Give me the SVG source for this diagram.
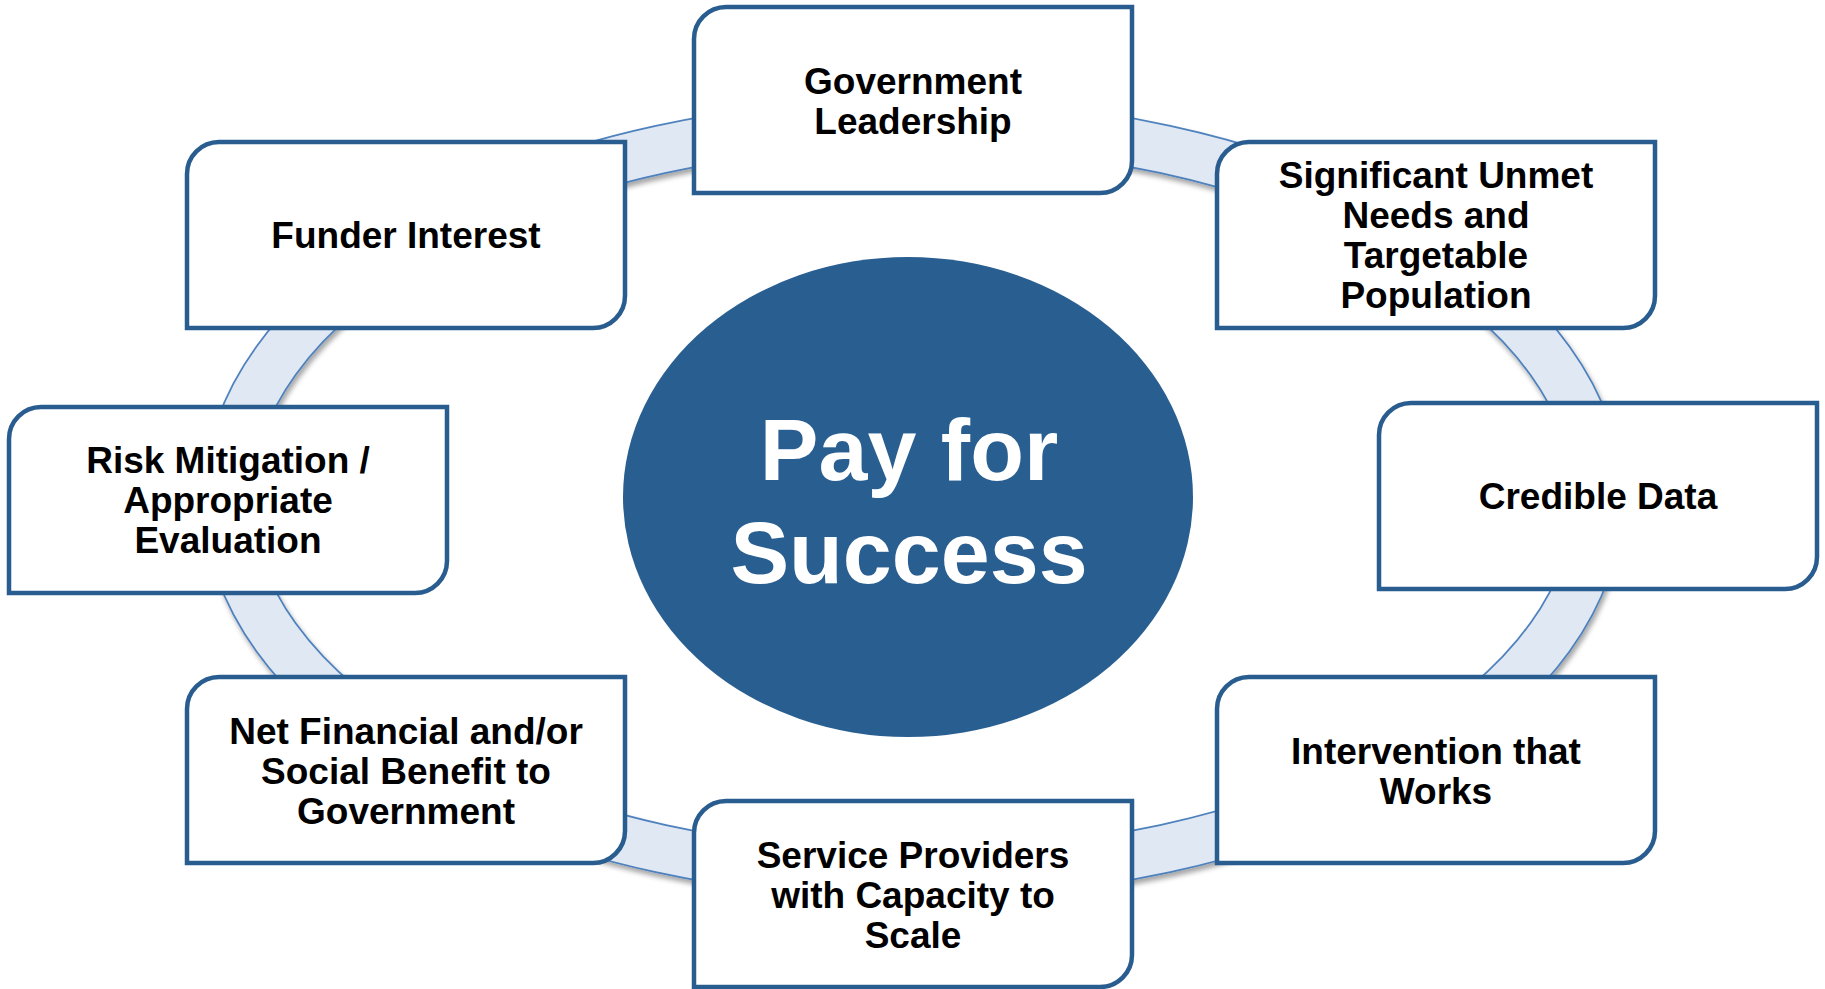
<svg xmlns="http://www.w3.org/2000/svg" width="1825" height="989" viewBox="0 0 1825 989">
<defs>
<filter id="sh" x="-10%" y="-10%" width="120%" height="120%">
<feDropShadow dx="2" dy="4" stdDeviation="2.5" flood-color="#000" flood-opacity="0.35"/>
</filter>
</defs>
<style>
.box{fill:#fff;stroke:#2A5D8F;stroke-width:4.5}
.t{font-family:"Liberation Sans",Arial,sans-serif;font-weight:bold;font-size:37px;fill:#000;text-anchor:middle}
.c{font-family:"Liberation Sans",Arial,sans-serif;font-weight:bold;font-size:88px;fill:#fff;text-anchor:middle}
</style>
<rect width="1825" height="989" fill="#fff"/>
<g id="connectors">
<g filter="url(#sh)">
<ellipse cx="913" cy="499" rx="685" ry="376" fill="none" stroke="#4F81BD" stroke-width="50"/>
<ellipse cx="913" cy="499" rx="685" ry="376" fill="none" stroke="#DFE8F3" stroke-width="46.5"/>
</g>
</g>
<g id="center">
<ellipse cx="908" cy="497" rx="285" ry="240" fill="#295E91"/>
<text class="c" x="909" y="480">Pay for</text>
<text class="c" x="909" y="583">Success</text>
</g>
<g id="n-gov">
<path class="box" d="M726,7 H1132 V161 A32,32 0 0 1 1100,193 H694 V39 A32,32 0 0 1 726,7 Z"/>
<text class="t" x="913" y="94">Government</text>
<text class="t" x="913" y="134">Leadership</text>
</g>
<g id="n-funder">
<path class="box" d="M219,142 H625 V296 A32,32 0 0 1 593,328 H187 V174 A32,32 0 0 1 219,142 Z"/>
<text class="t" x="406" y="248">Funder Interest</text>
</g>
<g id="n-sig">
<path class="box" d="M1249,142 H1655 V296 A32,32 0 0 1 1623,328 H1217 V174 A32,32 0 0 1 1249,142 Z"/>
<text class="t" x="1436" y="188">Significant Unmet</text>
<text class="t" x="1436" y="228">Needs and</text>
<text class="t" x="1436" y="268">Targetable</text>
<text class="t" x="1436" y="308">Population</text>
</g>
<g id="n-risk">
<path class="box" d="M41,407 H447 V561 A32,32 0 0 1 415,593 H9 V439 A32,32 0 0 1 41,407 Z"/>
<text class="t" x="228" y="473">Risk Mitigation /</text>
<text class="t" x="228" y="513">Appropriate</text>
<text class="t" x="228" y="553">Evaluation</text>
</g>
<g id="n-data">
<path class="box" d="M1411,403 H1817 V557 A32,32 0 0 1 1785,589 H1379 V435 A32,32 0 0 1 1411,403 Z"/>
<text class="t" x="1598" y="509">Credible Data</text>
</g>
<g id="n-net">
<path class="box" d="M219,677 H625 V831 A32,32 0 0 1 593,863 H187 V709 A32,32 0 0 1 219,677 Z"/>
<text class="t" x="406" y="744">Net Financial and/or</text>
<text class="t" x="406" y="784">Social Benefit to</text>
<text class="t" x="406" y="824">Government</text>
</g>
<g id="n-interv">
<path class="box" d="M1249,677 H1655 V831 A32,32 0 0 1 1623,863 H1217 V709 A32,32 0 0 1 1249,677 Z"/>
<text class="t" x="1436" y="764">Intervention that</text>
<text class="t" x="1436" y="804">Works</text>
</g>
<g id="n-service">
<path class="box" d="M726,801 H1132 V955 A32,32 0 0 1 1100,987 H694 V833 A32,32 0 0 1 726,801 Z"/>
<text class="t" x="913" y="868">Service Providers</text>
<text class="t" x="913" y="908">with Capacity to</text>
<text class="t" x="913" y="948">Scale</text>
</g>
</svg>
